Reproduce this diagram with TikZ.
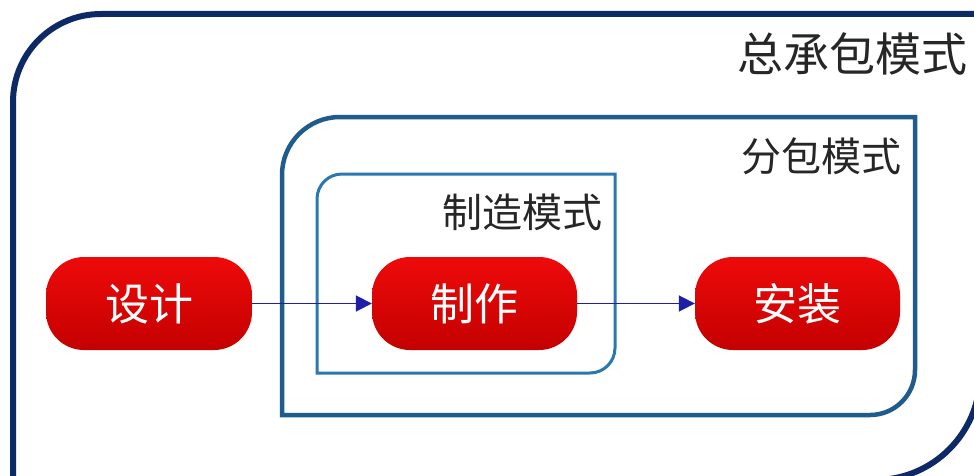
\documentclass[tikz,border=0pt]{standalone}
\usepackage{fontspec}
\newfontfamily\cjk{Noto Sans CJK SC}
\usetikzlibrary{arrows.meta}
\definecolor{outerc}{HTML}{0E2A66}
\definecolor{subc}{HTML}{1F5B8C}
\definecolor{manc}{HTML}{2B78B0}
\definecolor{arrc}{HTML}{1E1EA8}
\definecolor{redtop}{HTML}{EE0A0A}
\definecolor{redbot}{HTML}{C40000}
\tikzset{
  procbox/.style={rounded corners=38pt, minimum width=205pt, minimum height=93pt,
    top color=redtop, bottom color=redbot, draw=none, text=white,
    font=\cjk\fontsize{44}{48}\selectfont, inner sep=0pt},
  flow/.style={draw=arrc, line width=1.8pt, -{Triangle[length=16pt,width=16pt]}},
  framelabel/.style={text=black!85, inner sep=0pt}
}
\begin{document}
\begin{tikzpicture}[x=1pt,y=1pt]
\useasboundingbox (0,0) rectangle (974,475);
\clip (0,0) rectangle (974,475);
\fill[white] (0,0) rectangle (974,475);
% outer frame
\draw[outerc, line width=6pt] (13,-5) -- (13,373) arc[start angle=180,end angle=90,radius=88]
  -- (980,461) -- (980,100) arc[start angle=0,end angle=-90,radius=105] -- cycle;
% sub-package frame
\draw[subc, line width=4.5pt] (282,60) -- (282,300) arc[start angle=180,end angle=90,radius=58]
  -- (915,358) -- (915,105) arc[start angle=0,end angle=-90,radius=45] -- cycle;
% manufacturing frame
\draw[manc, line width=3pt] (317,102) -- (317,276) arc[start angle=180,end angle=90,radius=25]
  -- (615,301) -- (615,127) arc[start angle=0,end angle=-90,radius=25] -- cycle;
% labels
\node[framelabel, font=\cjk\fontsize{46}{50}\selectfont] (lgc) at (852,421) {总承包模式};
\node[framelabel, font=\cjk\fontsize{40}{44}\selectfont] (lsub) at (821,319) {分包模式};
\node[framelabel, font=\cjk\fontsize{40}{44}\selectfont] (lman) at (522,263) {制造模式};
% process boxes
\node[procbox, minimum width=206pt] (design) at (149,171.5) {设计};
\node[procbox] (make) at (474.5,171.5) {制作};
\node[procbox] (install) at (797.5,171.5) {安装};
% connectors
\draw[flow] (design.east) -- (make.west);
\draw[flow] (make.east) -- (install.west);
\end{tikzpicture}
\end{document}
